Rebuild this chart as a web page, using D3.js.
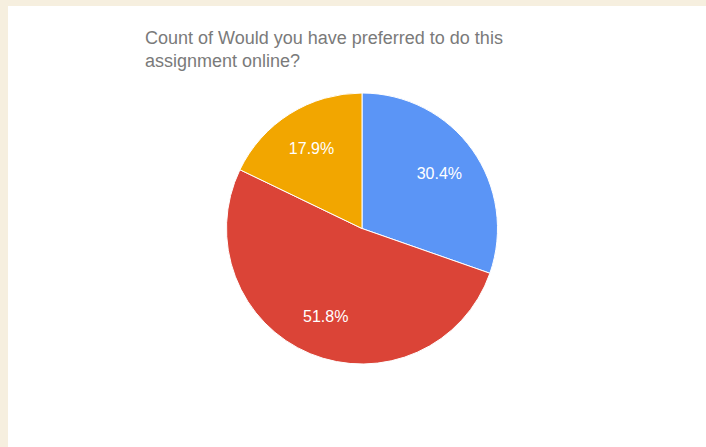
<!DOCTYPE html>
<html>
<head>
<meta charset="utf-8">
<script src="https://cdn.jsdelivr.net/npm/d3@7"></script>
<style>
  html, body { margin: 0; padding: 0; background: #f6efdf; }
  svg { display: block; }
</style>
</head>
<body>
<script>
// answers and their counts (56 responses)
var categories = ['Yes', 'No', 'Maybe'];
var counts = [17, 29, 10];
var colors = ['#5b95f6', '#db4437', '#f2a600'];
var titleLines = ['Count of Would you have preferred to do this', 'assignment online?'];

var width = 706, height = 447;

var svg = d3.select('body').append('svg')
                .attr('width', width)
                .attr('height', height);

// white card on the beige page
svg.append('rect')
    .attr('x', 8).attr('y', 6)
    .attr('width', width - 8).attr('height', height - 6)
    .attr('fill', '#ffffff');

svg.append('text')
    .attr('x', 145).attr('y', 44)
    .attr('font-family', 'Arial, "Liberation Sans", sans-serif')
    .attr('font-size', '18px')
    .attr('fill', '#7a7a7a')
    .selectAll('tspan')
    .data(titleLines)
    .enter().append('tspan')
    .attr('x', 145)
    .attr('dy', function(d, i){ return i === 0 ? 0 : 23; })
    .text(function(d){ return d; });

var cx = 362, cy = 228.5, r = 135.5;

var pie = d3.pie().sort(null).value(function(d){ return d; });
var arcs = pie(counts);
var total = d3.sum(counts);

var arc = d3.arc().innerRadius(0).outerRadius(r);
var labelArc = d3.arc().innerRadius(r * 0.7).outerRadius(r * 0.7);

var g = svg.append('g').attr('transform', 'translate(' + cx + ',' + cy + ')');

g.selectAll('path')
    .data(arcs)
    .enter().append('path')
    .attr('d', arc)
    .attr('fill', function(d, i){ return colors[i]; })
    .attr('stroke', '#ffffff')
    .attr('stroke-width', 1);

g.selectAll('text')
    .data(arcs)
    .enter().append('text')
    .attr('transform', function(d){ return 'translate(' + labelArc.centroid(d) + ')'; })
    .attr('text-anchor', 'middle')
    .attr('dy', '0.35em')
    .attr('font-family', 'Arial, "Liberation Sans", sans-serif')
    .attr('font-size', '16px')
    .attr('fill', '#ffffff')
    .text(function(d){ return (d.value / total * 100).toFixed(1) + '%'; });
</script>
</body>
</html>
